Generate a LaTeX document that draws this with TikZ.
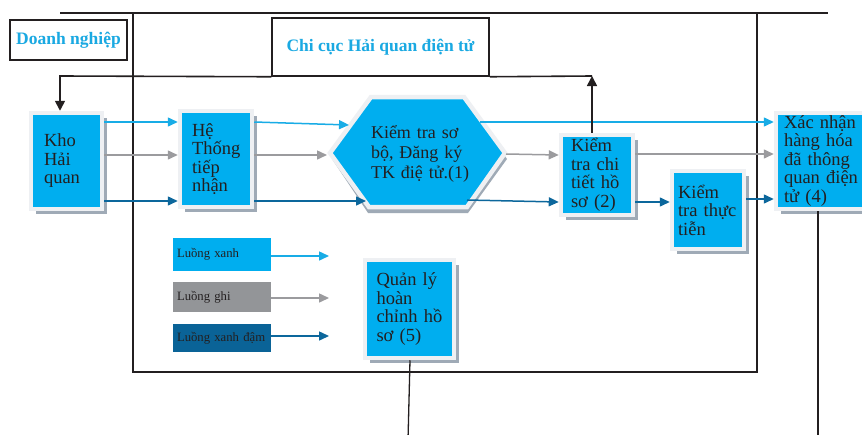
\documentclass[tikz,border=0pt]{standalone}
\usepackage{fontspec}
\setmainfont{Liberation Serif}
\usetikzlibrary{arrows.meta,shadows}

\definecolor{boxcyan}{HTML}{00AEEF}
\definecolor{framec}{HTML}{EEF0F3}
\definecolor{shadec}{HTML}{9FAAB6}
\definecolor{flowcyan}{HTML}{18ACE6}
\definecolor{flowgray}{HTML}{9B9B9E}
\definecolor{flowdark}{HTML}{0C679C}
\definecolor{leggray}{HTML}{939598}
\definecolor{legdark}{HTML}{0A6397}
\definecolor{headc}{HTML}{1AA9E2}
\definecolor{inkc}{HTML}{231F20}

\begin{document}
\begin{tikzpicture}[x=1pt,y=-1pt,
  stepbox/.style={rectangle, fill=boxcyan, draw=framec, line width=4.5pt,
    inner sep=0pt, align=left, text=inkc,
    font=\fontsize{18.5}{18.5}\selectfont,
    drop shadow={shadow xshift=5pt, shadow yshift=-5pt, fill=shadec, opacity=1}},
  headbox/.style={rectangle, draw=inkc, line width=1.5pt, fill=white,
    text=headc, font=\fontsize{17.5}{20}\selectfont\bfseries, inner sep=0pt},
  legbox/.style={rectangle, inner sep=0pt, minimum width=98pt, align=left,
    text width=90pt, text=inkc, font=\fontsize{12.7}{14}\selectfont},
  hexfill/.style={fill=boxcyan, draw=framec, line width=4.5pt, line join=miter},
  hexshade/.style={fill=shadec},
  txtnode/.style={inner sep=0pt, align=left, text=inkc,
    font=\fontsize{18}{20}\selectfont},
  rule/.style={draw=inkc, line width=1.6pt},
  flow/.style={line width=1.5pt, -{Triangle[length=10pt,width=9pt]}},
  fcyan/.style={flow, draw=flowcyan, fill=flowcyan},
  fgray/.style={flow, draw=flowgray, fill=flowgray},
  fdark/.style={flow, draw=flowdark, fill=flowdark},
  blackarrow/.style={rule, -{Triangle[length=10pt,width=10pt]}}
]
\clip (0,0) rectangle (862,434);
\fill[white] (0,0) rectangle (862,434);

% frame of the customs office area
\draw[rule] (60,13) -- (828,13);
\draw[rule] (133,13) -- (133,372) -- (757,372) -- (757,13);

% headings
\node[headbox, minimum width=117pt, minimum height=40pt] (dn) at (68.5,40) {Doanh nghiệp};
\node[headbox, minimum width=217pt, minimum height=58pt] (chicuc) at (380.5,47) {Chi cục Hải quan điện tử};

% process boxes
\node[stepbox, minimum width=71pt, minimum height=96pt, text width=45pt] (kho) at (66.5,161) {Kho\\Hải\\quan};
\node[stepbox, minimum width=72pt, minimum height=96pt, text width=48pt] (hts) at (216,159) {Hệ\\Thống\\tiếp\\nhận};
\node[stepbox, minimum width=72pt, minimum height=80pt, text width=52pt] (kct) at (597,175) {Kiểm\\tra~chi\\tiết~hồ\\sơ~(2)};
\node[stepbox, minimum width=72pt, minimum height=78pt, text width=60pt] (ktt) at (708,210) {Kiểm\\tra~thực\\tiễn};
\node[stepbox, minimum width=100pt, minimum height=96pt, text width=84pt] (xn) at (826,161) {Xác~nhận\\hàng~hóa\\đã~thông\\quan~điện\\tử~(4)};
\node[stepbox, minimum width=89pt, minimum height=98pt, text width=66pt] (ql) at (409.5,309) {Quản~lý\\hoàn\\chỉnh~hồ\\sơ~(5)};

% hexagon: preliminary check and e-declaration
\fill[hexshade] (332,159) -- (372,102) -- (466,102) -- (507,159) -- (468,213) -- (368,213) -- cycle;
\path[hexfill] (330,153) -- (371,97) -- (464,97) -- (505,153) -- (467,207) -- (369,207) -- cycle;
\node[txtnode, text width=110pt] (hex) at (426,154) {Kiểm~tra~sơ\\bộ,~Đăng~ký\\TK~điệ~tử.(1)};
\coordinate (hexin1) at (349,125);
\coordinate (hexin2) at (327,155);
\coordinate (hexin3) at (366,201);
\coordinate (hexout1) at (480,122);
\coordinate (hexout2) at (506,154);
\coordinate (hexout3) at (467,200);

% legend
\node[legbox, fill=boxcyan, minimum height=33pt] (lx) at (222,254.5) {Luồng xanh};
\node[legbox, fill=leggray, minimum height=30pt] (lg) at (222,297) {Luồng ghi};
\node[legbox, fill=legdark, minimum height=28pt] (ld) at (222,338) {Luồng xanh đậm};
\coordinate (lxe) at (329,256);
\coordinate (lge) at (329,298);
\coordinate (lde) at (329,336);
\draw[fcyan] (lx.east |- lxe) -- (lxe);
\draw[fgray] (lg.east |- lge) -- (lge);
\draw[fdark] (ld.east |- lde) -- (lde);

% flows between steps
\draw[fcyan] (kho.east |- 0,122) -- (hts.west |- 0,122);
\draw[fgray] (kho.east |- 0,155) -- (hts.west |- 0,155);
\draw[fdark] (kho.east |- 0,201) -- (hts.west |- 0,201);

\draw[fcyan] (hts.east |- 0,122) -- (hexin1);
\draw[fgray] (hts.east |- 0,155) -- (hexin2);
\draw[fdark] (hts.east |- 0,201) -- (hexin3);

\draw[fcyan] (hexout1) -- (xn.west |- 0,122);
\draw[fgray] (hexout2) -- (kct.west |- 0,155);
\draw[fdark] (hexout3) -- (kct.west |- 0,202);

\draw[fgray] (kct.east |- 0,154) -- (xn.west |- 0,154);
\draw[fdark] (kct.east |- 0,202) -- (ktt.west |- 0,202);
\draw[fdark] (ktt.east |- 0,199) -- (xn.west |- 0,199);

% feedback to the office and back to the warehouse
\coordinate (upend) at (592,76);
\coordinate (corner) at (60,76);
\draw[blackarrow] (kct.north -| upend) -- (upend);
\draw[rule] (upend) -- (chicuc.south east);
\draw[blackarrow] (chicuc.south west) -- (corner) -- (kho.north -| corner);

% outgoing lines
\coordinate (qlend) at (408,440);
\coordinate (xnend) at (818,440);
\draw[rule, line width=1.3pt] (ql.south -| 410,0) -- (qlend);
\draw[rule, line width=1.3pt] (xn.south -| xnend) -- (xnend);
\end{tikzpicture}
\end{document}
